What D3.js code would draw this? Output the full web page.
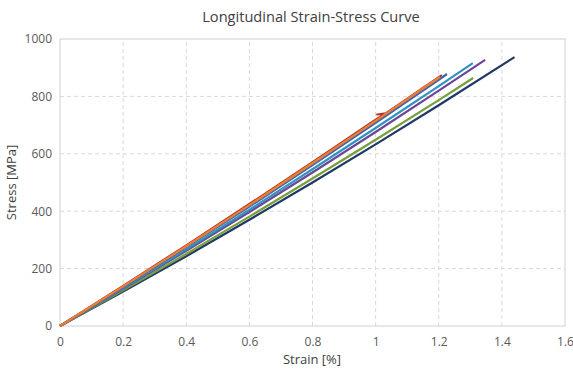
<!DOCTYPE html>
<html>
<head>
<meta charset="utf-8">
<script src="https://cdn.jsdelivr.net/npm/d3@7"></script>
<style>
  body { margin: 0; background: #fff; }
  svg { display: block; font-family: "Open Sans", sans-serif; }
</style>
</head>
<body>
<svg id="chart" width="573" height="371"></svg>
<script>
// tick labels
const xTicks = [0, 0.2, 0.4, 0.6, 0.8, 1, 1.2, 1.4, 1.6];
const yTicks = [0, 200, 400, 600, 800, 1000];

// specimens: strain [%] / stress [MPa]
const redStrain    = [0, 0.2, 0.4, 0.6, 0.8, 1.0, 1.03, 1.005, 1.032, 1.2, 1.21];
const redStress    = [0, 140, 281, 425, 571, 719, 740, 737, 741, 867, 874];
const orangeStrain = [0, 0.2, 0.4, 0.6, 0.8, 1.0, 1.2, 1.204];
const orangeStress = [0, 138, 278, 421, 567, 715, 865, 868];
const blueStrain   = [0, 0.2, 0.4, 0.6, 0.8, 1.0, 1.2, 1.226];
const blueStress   = [0, 136, 275, 416, 561, 708, 858, 878];
const tealStrain   = [0, 0.2, 0.4, 0.6, 0.8, 1.0, 1.2, 1.308];
const tealStress   = [0, 132, 267, 405, 546, 690, 836, 916];
const purpleStrain = [0, 0.2, 0.4, 0.6, 0.8, 1.0, 1.2, 1.347];
const purpleStress = [0, 130, 262, 397, 535, 676, 820, 927];
const greenStrain  = [0, 0.2, 0.4, 0.6, 0.8, 1.0, 1.2, 1.309];
const greenStress  = [0, 124, 251, 381, 514, 649, 787, 864];
const navyStrain   = [0, 0.2, 0.4, 0.6, 0.8, 1.0, 1.2, 1.44];
const navyStress   = [0, 120, 243, 370, 500, 633, 769, 937];

const series = [
  {strain: navyStrain, stress: navyStress, color: '#1f3864'},
  {strain: greenStrain, stress: greenStress, color: '#77a03c'},
  {strain: purpleStrain, stress: purpleStress, color: '#6b4696'},
  {strain: tealStrain, stress: tealStress, color: '#2f93c0'},
  {strain: blueStrain, stress: blueStress, color: '#3f64b0'},
  {strain: redStrain, stress: redStress, color: '#b03a2e'},
  {strain: orangeStrain, stress: orangeStress, color: '#ed7d31'}
];

const svg = d3.select('#chart');
const m = {left: 60, right: 8, top: 39, bottom: 45};
const W = 573, H = 371;

const x = d3.scaleLinear().domain([0, 1.6]).range([m.left, W - m.right]);
const y = d3.scaleLinear().domain([0, 1000]).range([H - m.bottom, m.top]);

/*网格*/
svg.append('g')
  .selectAll('line.vg')
  .data(xTicks.slice(1, -1))
  .enter().append('line')
  .attr('x1', d => x(d)).attr('x2', d => x(d))
  .attr('y1', y(0)).attr('y2', y(1000))
  .attr('stroke', '#d9d9d9').attr('stroke-dasharray', '4,3');

svg.append('g')
  .selectAll('line.hg')
  .data(yTicks.slice(1, -1))
  .enter().append('line')
  .attr('x1', x(0)).attr('x2', x(1.6))
  .attr('y1', d => y(d)).attr('y2', d => y(d))
  .attr('stroke', '#d9d9d9').attr('stroke-dasharray', '4,3');

svg.append('rect')
  .attr('x', x(0)).attr('y', y(1000))
  .attr('width', x(1.6) - x(0)).attr('height', y(0) - y(1000))
  .attr('fill', 'none').attr('stroke', '#d0d0d0');

/*坐标轴*/
const xAxis = svg.append('g')
  .attr('transform', `translate(0,${y(0)})`)
  .call(d3.axisBottom(x).tickValues(xTicks).tickSize(0).tickPadding(11).tickFormat(d3.format('~g')));
const yAxis = svg.append('g')
  .attr('transform', `translate(${x(0)},0)`)
  .call(d3.axisLeft(y).tickValues(yTicks).tickSize(0).tickPadding(8).tickFormat(d3.format('d')));
[xAxis, yAxis].forEach(a => {
  a.select('.domain').remove();
  a.selectAll('text').attr('fill', '#595959').style('font-size', '12px').style('font-family', '"Open Sans", sans-serif');
});

/*曲线*/
const line = d3.line().x(d => x(d[0])).y(d => y(d[1]));
svg.append('g')
  .selectAll('path')
  .data(series)
  .enter().append('path')
  .attr('d', s => line(s.strain.map((v, i) => [v, s.stress[i]])))
  .attr('fill', 'none')
  .attr('stroke', s => s.color)
  .attr('stroke-width', 2.2)
  .attr('stroke-linejoin', 'round');

/*标题*/
svg.append('text')
  .attr('x', 311).attr('y', 22)
  .attr('text-anchor', 'middle')
  .attr('fill', '#404040')
  .style('font-size', '14.6px')
  .text('Longitudinal Strain-Stress Curve');

svg.append('text')
  .attr('x', 312).attr('y', 364)
  .attr('text-anchor', 'middle')
  .attr('fill', '#404040')
  .style('font-size', '13px')
  .text('Strain [%]');

svg.append('text')
  .attr('transform', `translate(16,${(y(0) + y(1000)) / 2}) rotate(-90)`)
  .attr('text-anchor', 'middle')
  .attr('fill', '#404040')
  .style('font-size', '13px')
  .text('Stress [MPa]');
</script>
</body>
</html>
